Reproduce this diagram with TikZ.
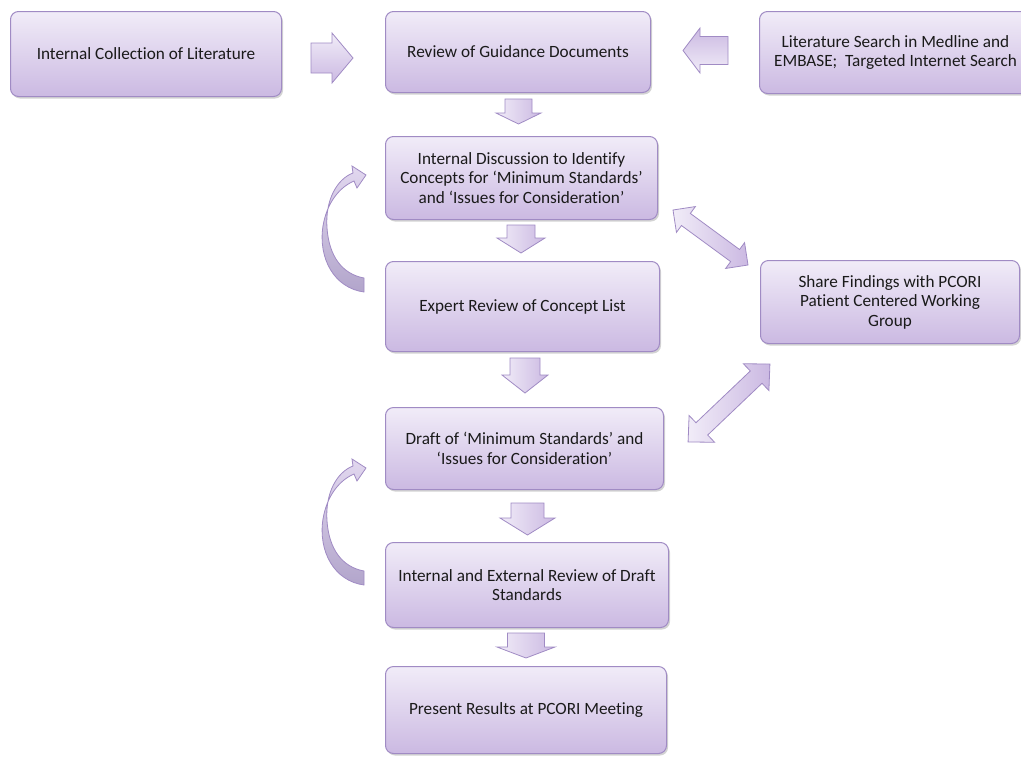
\documentclass[tikz,border=0pt]{standalone}
\usepackage{fontspec}
\setmainfont{Carlito}[Ligatures={NoCommon}]
\usetikzlibrary{shadows,calc}
\definecolor{boxtop}{HTML}{F1ECF8}
\definecolor{boxbot}{HTML}{CBB9E2}
\definecolor{boxline}{HTML}{A08BC4}
\definecolor{loopdark}{HTML}{B2A5CB}
\definecolor{txt}{HTML}{1A1A1A}
\tikzset{
  box/.style={draw=boxline, line width=1pt, rounded corners=8pt,
    top color=boxtop, bottom color=boxbot, anchor=north west, align=center,
    text=txt, font=\fontsize{17.2}{19.5}\selectfont, inner sep=3pt,
    drop shadow={shadow xshift=1.5pt, shadow yshift=-2pt, opacity=0.35, fill=black!50}},
  blkline/.style={draw=boxline, line width=0.8pt, line join=miter},
  pics/barrow/.style n args={5}{code={
    \path[blkline, #5] ({-#1/2},{-#3/2}) -- ({#1/2-#4},{-#3/2}) -- ({#1/2-#4},{-#2/2})
      -- ({#1/2},0) -- ({#1/2-#4},{#2/2}) -- ({#1/2-#4},{#3/2}) -- ({-#1/2},{#3/2}) -- cycle;
  }},
  pics/dbarrow/.style n args={5}{code={
    \path[blkline, #5] ({-#1/2},0) -- ({-#1/2+#4},{-#2/2}) -- ({-#1/2+#4},{-#3/2})
      -- ({#1/2-#4},{-#3/2}) -- ({#1/2-#4},{-#2/2}) -- ({#1/2},0)
      -- ({#1/2-#4},{#2/2}) -- ({#1/2-#4},{#3/2}) -- ({-#1/2+#4},{#3/2})
      -- ({-#1/2+#4},{#2/2}) -- cycle;
  }},
  vshade/.style={top color=boxtop, bottom color=boxbot},
  dshade/.style={left color=boxtop, right color=boxbot},
  rshade/.style={bottom color=boxtop, top color=boxbot},
  pics/loopback/.style={code={
    \path[blkline, top color=boxtop!60!boxbot, bottom color=loopdark]
      (364,292) .. controls (334,288) and (318,258) .. (323,226)
      .. controls (327,202) and (340,187) .. (354,181)
      -- (357,188) -- (366,175) -- (352,166) -- (353,173)
      .. controls (337,179) and (325,200) .. (327,228)
      .. controls (329,256) and (342,274) .. (364,278) -- cycle;
  }}
}
\begin{document}
\begin{tikzpicture}[x=1pt,y=-1pt]
\useasboundingbox (0,0) rectangle (1021,756);

% boxes
\node[box, minimum width=271pt, minimum height=85pt] (b1) at (10,11) {Internal Collection of Literature};
\node[box, minimum width=265pt, minimum height=81pt] (b2) at (385,11) {Review of Guidance Documents};
\node[box, minimum width=272pt, minimum height=82pt] (b3) at (759,11) {Literature Search in Medline and\\EMBASE;\ \ Targeted Internet Search};
\node[box, minimum width=272pt, minimum height=83pt] (b4) at (385,136) {Internal Discussion to Identify\\Concepts for ‘Minimum Standards’\\and ‘Issues for Consideration’};
\node[box, minimum width=274pt, minimum height=90pt] (b5) at (385,261) {Expert Review of Concept List};
\node[box, minimum width=259pt, minimum height=83pt] (b6) at (760,260) {Share Findings with PCORI\\Patient Centered Working\\Group};
\node[box, minimum width=278pt, minimum height=82pt] (b7) at (385,407) {Draft of ‘Minimum Standards’ and\\‘Issues for Consideration’};
\node[box, minimum width=283pt, minimum height=85pt] (b8) at (385,542) {Internal and External Review of Draft\\Standards};
\node[box, minimum width=281pt, minimum height=87pt] (b9) at (385,666) {Present Results at PCORI Meeting};

% horizontal block arrows
\pic at (332,58) {barrow={42}{50}{30}{21}{vshade}};
\pic[rotate=180] at (705.5,50.5) {barrow={45}{45}{28}{17}{rshade}};

% down block arrows
\pic[rotate=-90] at (518.5,111.5) {barrow={25}{45}{27}{11}{dshade}};
\pic[rotate=-90] at (521,239) {barrow={28}{48}{28}{15}{dshade}};
\pic[rotate=-90] at (525,375.5) {barrow={35}{46}{30}{18}{dshade}};
\pic[rotate=-90] at (527.5,519) {barrow={32}{55}{33}{17}{dshade}};
\pic[rotate=-90] at (526,645.5) {barrow={25}{58}{37}{11}{dshade}};

% double arrows
\pic[rotate=-36.25] at (710.5,237.5) {dbarrow={93}{32}{15}{16}{dshade}};
\pic[rotate=43.6] at (729,403) {dbarrow={113}{37}{17}{19}{dshade}};

% loop-back arrows
\pic at (0,0) {loopback};
\pic at (0,293) {loopback};
\end{tikzpicture}
\end{document}
